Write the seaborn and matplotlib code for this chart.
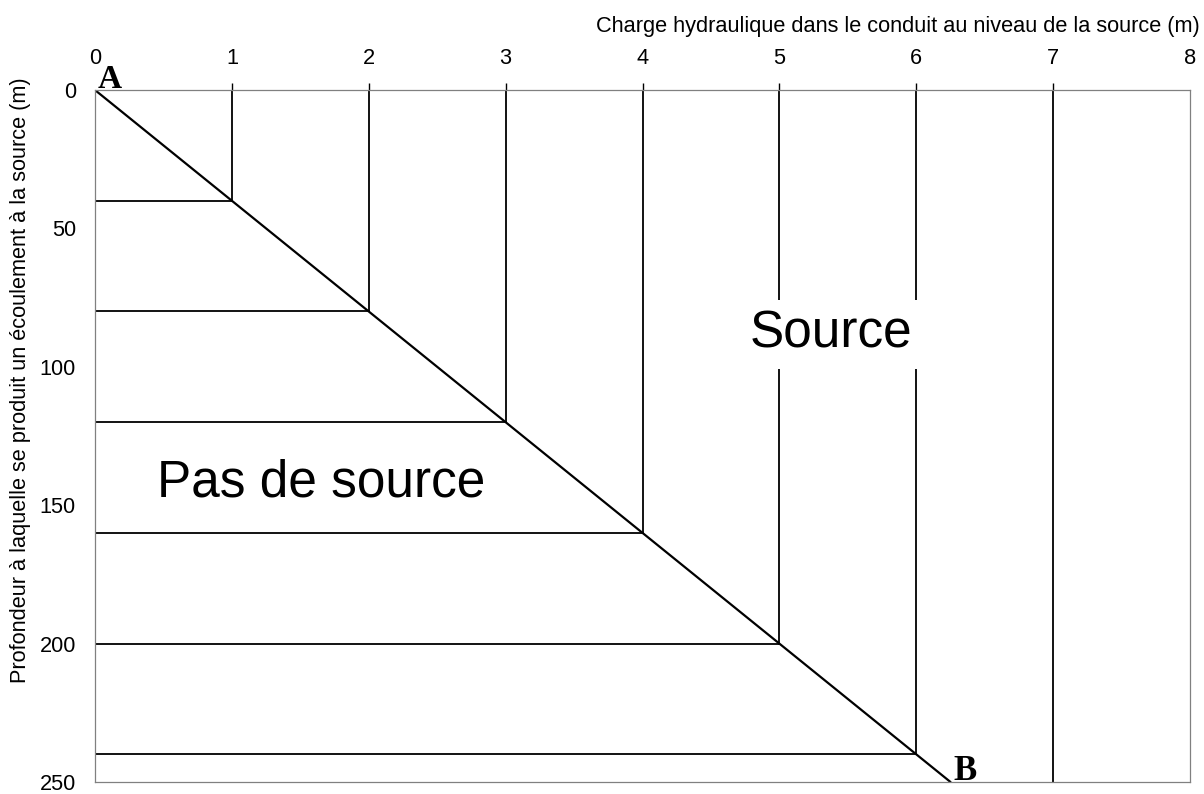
import numpy as np
import pandas as pd
import matplotlib as mpl
mpl.use("Agg")
import matplotlib.pyplot as plt
import seaborn as sns

# data
line_ab_x = [0, 6.25]          # A -> B
line_ab_y = [0, 250]
head_lines = [1, 2, 3, 4, 5, 6, 7]            # vertical lines (m of head)
head_line_ends = [40, 80, 120, 160, 200, 240, 250]
depth_lines = [40, 80, 120, 160, 200, 240]    # horizontal lines (m of depth)
depth_line_ends = [1, 2, 3, 4, 5, 6]
x_ticks = [0, 1, 2, 3, 4, 5, 6, 7, 8]
y_ticks = [0, 50, 100, 150, 200, 250]

sns.set_style("white")
plt.rcParams['font.family'] = ['Liberation Sans', 'DejaVu Sans']
plt.rcParams['text.color'] = 'black'
plt.rcParams['axes.labelcolor'] = 'black'

# build segments as a long table for seaborn
rows = []
for i, (x, end) in enumerate(zip(head_lines, head_line_ends)):
    rows.append({"seg": f"v{i}", "x": x, "y": 0})
    rows.append({"seg": f"v{i}", "x": x, "y": end})
for i, (y, end) in enumerate(zip(depth_lines, depth_line_ends)):
    rows.append({"seg": f"h{i}", "x": 0, "y": y})
    rows.append({"seg": f"h{i}", "x": end, "y": y})
segs = pd.DataFrame(rows)
df_ab = pd.DataFrame({"x": line_ab_x, "y": line_ab_y})

fig = plt.figure(figsize=(12.04, 7.94), dpi=100)
ax = fig.add_axes([0.0789, 0.0151, 0.9095, 0.8715])

sns.lineplot(data=segs, x="x", y="y", units="seg", estimator=None, sort=False,
             color="black", lw=1.3, ax=ax)
sns.lineplot(data=df_ab, x="x", y="y", estimator=None, sort=False,
             color="black", lw=1.6, ax=ax)

ax.set_xlim(0, 8)
ax.set_ylim(250, 0)
ax.set_xticks(x_ticks)
ax.set_yticks(y_ticks)
ax.xaxis.tick_top()
ax.tick_params(axis="x", direction="out", length=5, width=1, color="black",
               labelcolor="black", labelsize=15.7, pad=10.5)
ax.tick_params(axis="y", direction="inout", length=11, width=1, color="#808080",
               labelcolor="black", labelsize=15.7, pad=8.3)
for t in (ax.xaxis.get_major_ticks()[0], ax.xaxis.get_major_ticks()[-1]):
    t.tick2line.set_visible(False)
for s in ax.spines.values():
    s.set_color("#808080")
    s.set_linewidth(0.9)

ax.xaxis.set_label_position("top")
ax.set_xlabel("Charge hydraulique dans le conduit au niveau de la source (m)",
              fontsize=15.7, ha="right")
ax.xaxis.set_label_coords(1.0092, 1.0845)
ax.set_ylabel("Profondeur à laquelle se produit un écoulement à la source (m)",
              fontsize=15.7)
ax.yaxis.set_label_coords(-0.0586, 0.58)

ax.text(0.453, 146.9, "Pas de source", fontsize=37, ha="left", va="baseline")
ax.text(5.38, 88.3, "Source", fontsize=37, ha="center", va="center", zorder=5,
        bbox=dict(facecolor="white", edgecolor="none", pad=7.5))
ax.text(0.02, -0.7, "A", fontsize=24, fontweight="bold", family="Liberation Serif",
        ha="left", va="baseline", clip_on=False)
ax.text(6.27, 249.3, "B", fontsize=25, fontweight="bold", family="Liberation Serif",
        ha="left", va="baseline", clip_on=False)

plt.savefig("out.png", dpi=100)
